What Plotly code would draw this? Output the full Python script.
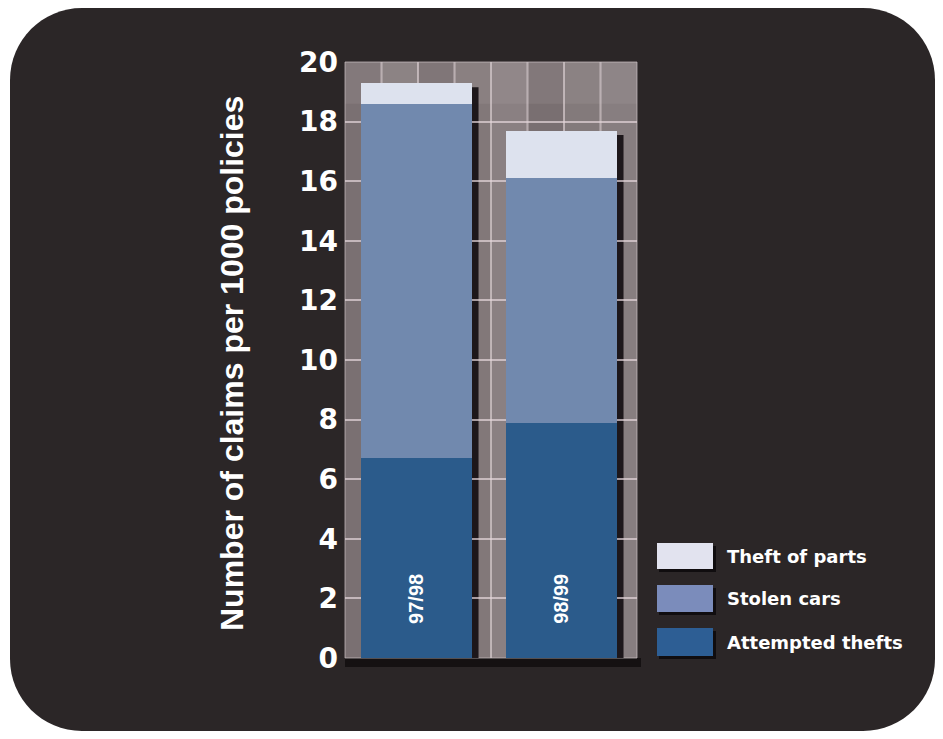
import plotly.graph_objects as go

# ---------------- data ----------------
categories = ["97/98", "98/99"]
series_names = ["Attempted thefts", "Stolen cars", "Theft of parts"]
attempted = [6.7, 7.9]
stolen = [11.9, 8.2]
parts = [0.7, 1.6]
y_ticks = [0, 2, 4, 6, 8, 10, 12, 14, 16, 18, 20]
y_title = "Number of claims per 1000 policies"

# ---------------- styling ----------------
series_colors = ["#2b5b8b", "#7189ae", "#dde2ee"]
legend_colors = ["#2d5e94", "#7b8cbb", "#e2e3ef"]
bg_dark = "#2b2627"
FONT = "Liberation Sans"
FONT_WIDE = "DejaVu Sans"

W, H = 943, 739
L, R, T, B = 345, 306, 62, 81
PW, PH = W - L - R, H - T - B


def px(x):
    return (x - L) / PW


def py(y):
    return (H - B - y) / PH


fig = go.Figure()
xpos = list(range(len(categories)))
bar_w = 0.766
for name, vals, col in zip(series_names, [attempted, stolen, parts], series_colors):
    fig.add_trace(go.Bar(
        x=xpos, y=vals, name=name, width=bar_w,
        marker=dict(color=col, line=dict(width=0)),
        showlegend=False, hoverinfo="y+name",
    ))

shapes = []
# dark rounded panel
x0, y0, x1, y1, r = 10, 8, 935, 731, 72
k = 0.5523 * r
pts = [
    ("M", [(x0 + r, y0)]),
    ("L", [(x1 - r, y0)]),
    ("C", [(x1 - r + k, y0), (x1, y0 + r - k), (x1, y0 + r)]),
    ("L", [(x1, y1 - r)]),
    ("C", [(x1, y1 - r + k), (x1 - r + k, y1), (x1 - r, y1)]),
    ("L", [(x0 + r, y1)]),
    ("C", [(x0 + r - k, y1), (x0, y1 - r + k), (x0, y1 - r)]),
    ("L", [(x0, y0 + r)]),
    ("C", [(x0, y0 + r - k), (x0 + r - k, y0), (x0 + r, y0)]),
]
path = ""
for cmd, cps in pts:
    path += cmd + " " + " ".join(f"{px(a):.5f},{py(b):.5f}" for a, b in cps) + " "
path += "Z"
shapes.append(dict(type="path", xref="paper", yref="paper", path=path,
                   fillcolor=bg_dark, line=dict(width=0), layer="below"))

# dark band under the plot
shapes.append(dict(type="rect", xref="paper", yref="paper",
                   x0=0, x1=px(641), y0=py(667), y1=0,
                   fillcolor="#151112", line=dict(width=0), layer="below"))
# plot background columns (textured look)
col_shades = ["#7a7072", "#857b7d", "#776d6f", "#827879",
              "#8a8082", "#796f71", "#837a7b", "#877e80"]
n_cols = len(col_shades)
for i, c in enumerate(col_shades):
    shapes.append(dict(type="rect", xref="paper", yref="paper",
                       x0=i / n_cols, x1=(i + 1) / n_cols, y0=0, y1=1,
                       fillcolor=c, line=dict(width=0), layer="below"))
# soft lighter band at the top
shapes.append(dict(type="rect", xref="paper", yref="paper",
                   x0=0, x1=1, y0=0.93, y1=1,
                   fillcolor="rgba(200,190,192,0.12)", line=dict(width=0), layer="below"))
# vertical light stripes
for i in range(1, n_cols):
    shapes.append(dict(type="line", xref="paper", yref="paper",
                       x0=i / n_cols, x1=i / n_cols, y0=0, y1=1,
                       line=dict(color="rgba(222,210,214,0.65)", width=2), layer="below"))
# plot border
shapes.append(dict(type="rect", xref="paper", yref="paper", x0=0, x1=1, y0=0, y1=1,
                   line=dict(color="rgba(205,195,198,0.7)", width=1), layer="below"))

# bar drop shadows (right side)
totals = [a + s + p for a, s, p in zip(attempted, stolen, parts)]
for xi, tot in zip(xpos, totals):
    shapes.append(dict(type="rect", xref="x", yref="y",
                       x0=xi + bar_w / 2, x1=xi + bar_w / 2 + 0.045,
                       y0=0, y1=tot - 0.15,
                       fillcolor="rgba(18,12,16,0.9)", line=dict(width=0), layer="below"))

annotations = []
# labels inside bars
for xi, cat in zip(xpos, categories):
    annotations.append(dict(x=xi, y=2.0, xref="x", yref="y", text=cat, showarrow=False,
                            textangle=-90,
                            font=dict(family=FONT, size=20, color="white", weight="bold")))

# y axis title
annotations.append(dict(x=px(232), y=py(364), xref="paper", yref="paper", text=y_title,
                        showarrow=False, textangle=-90, xanchor="center", yanchor="middle",
                        font=dict(family=FONT, size=32, color="white", weight="bold")))

# custom legend
legend_rows = [(series_names[2], legend_colors[2], 543, 569),
               (series_names[1], legend_colors[1], 585, 612),
               (series_names[0], legend_colors[0], 628, 656)]
for name, col, ya, yb in legend_rows:
    shapes.append(dict(type="rect", xref="paper", yref="paper",
                       x0=px(659), x1=px(716), y0=py(yb + 3), y1=py(ya + 3),
                       fillcolor="rgba(10,8,10,0.8)", line=dict(width=0)))
    shapes.append(dict(type="rect", xref="paper", yref="paper",
                       x0=px(657), x1=px(713), y0=py(yb), y1=py(ya),
                       fillcolor=col, line=dict(width=0)))
    annotations.append(dict(x=px(725), y=py((ya + yb) / 2), xref="paper", yref="paper",
                            text=name, showarrow=False, xanchor="left", yanchor="middle",
                            font=dict(family=FONT_WIDE, size=18, color="white", weight="bold")))

fig.update_layout(
    width=W, height=H,
    margin=dict(l=L, r=R, t=T, b=B, pad=0),
    paper_bgcolor="white",
    plot_bgcolor="rgba(0,0,0,0)",
    barmode="stack",
    bargap=0.2,
    shapes=shapes,
    annotations=annotations,
    showlegend=False,
    xaxis=dict(range=[-0.493, 1.521], showgrid=False, zeroline=False,
               showticklabels=False, ticks="", showline=False, fixedrange=True),
    yaxis=dict(range=[0, 20], tickvals=y_ticks, ticktext=[str(v) for v in y_ticks],
               showgrid=True, gridcolor="rgba(228,214,218,0.7)", gridwidth=2,
               zeroline=False, showline=False, ticks="", ticklabelstandoff=6,
               tickfont=dict(family=FONT_WIDE, size=28, color="white", weight="bold"),
               fixedrange=True),
)

fig.write_html("out.html", config={"displayModeBar": False},
               post_script="document.body.style.margin='0';")
